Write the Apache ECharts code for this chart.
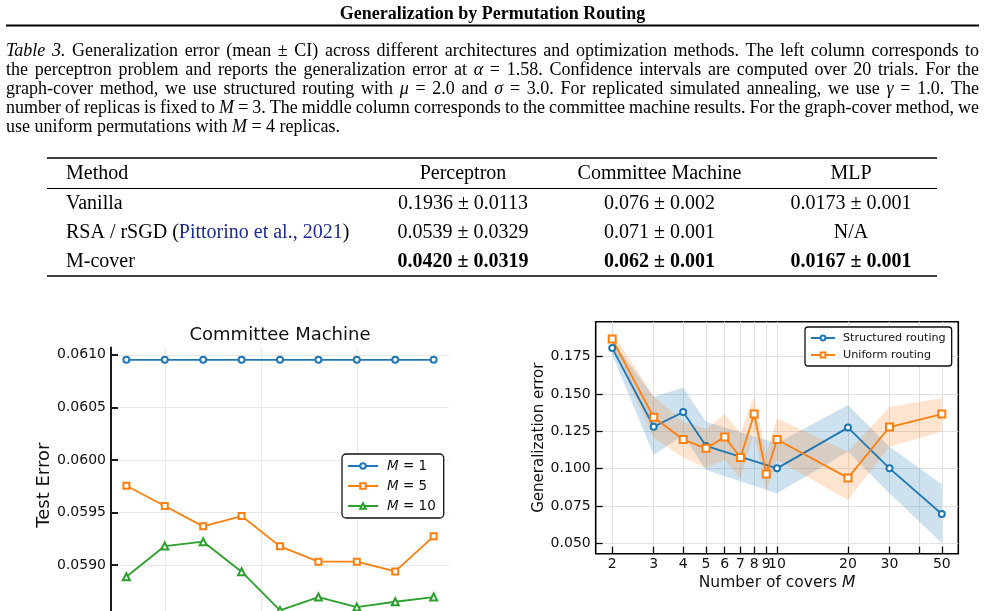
<!DOCTYPE html>
<html><head><meta charset="utf-8">
<script src="https://cdn.jsdelivr.net/npm/echarts@6/dist/echarts.min.js"></script>
<style>html,body{margin:0;padding:0;background:#fff}#main{width:985px;height:611px}</style>
</head><body><div id="main"></div>
<script>
// ---------------- data ----------------
const pageTitle = 'Generalization by Permutation Routing';
const captionLines = [
  '_Table_ _3._ Generalization error (mean ± CI) across different architectures and optimization methods. The left column corresponds to',
  'the perceptron problem and reports the generalization error at _α_ = 1.58. Confidence intervals are computed over 20 trials. For the',
  'graph-cover method, we use structured routing with _μ_ = 2.0 and _σ_ = 3.0. For replicated simulated annealing, we use _γ_ = 1.0. The',
  'number of replicas is fixed to _M_ = 3. The middle column corresponds to the committee machine results. For the graph-cover method, we',
  'use uniform permutations with _M_ = 4 replicas.'
];
const tableHeader = ['Method', 'Perceptron', 'Committee Machine', 'MLP'];
const tableMethods = ['Vanilla', 'RSA / rSGD ({c|Pittorino et al., 2021})', 'M-cover'];
const tablePerceptron = ['0.1936 ± 0.0113', '0.0539 ± 0.0329', '0.0420 ± 0.0319'];
const tableCommittee = ['0.076 ± 0.002', '0.071 ± 0.001', '0.062 ± 0.001'];
const tableMLP = ['0.0173 ± 0.001', 'N/A', '0.0167 ± 0.001'];
const tableBoldRow = 2;

// Committee machine panel
const cmX = [0.6, 1.0, 1.4, 1.8, 2.2, 2.6, 3.0, 3.4, 3.8];
const cmM1 = [0.060952, 0.060952, 0.060952, 0.060952, 0.060952, 0.060952, 0.060952, 0.060952, 0.060952];
const cmM5 = [0.059754, 0.059561, 0.059368, 0.059466, 0.059178, 0.059032, 0.059032, 0.058940, 0.059273];
const cmM10 = [0.058889, 0.059181, 0.059222, 0.058937, 0.058569, 0.058696, 0.058601, 0.058651, 0.058696];
const cmYTicks = [0.0585, 0.0590, 0.0595, 0.0600, 0.0605, 0.0610];
const cmXGrid = [1, 2, 3];

// Covers panel
const coversStructured = [2, 3, 4, 5, 10, 20, 30, 50];
const structuredMean = [0.1808, 0.1281, 0.1379, 0.1152, 0.1002, 0.1275, 0.1002, 0.0696];
const structuredLow  = [0.1765, 0.1091, 0.1225, 0.0991, 0.0835, 0.1114, 0.0835, 0.0502];
const structuredHigh = [0.1855, 0.1482, 0.1542, 0.1314, 0.1170, 0.1426, 0.1147, 0.0895];
const coversUniform = [2, 3, 4, 5, 6, 7, 8, 9, 10, 20, 30, 50];
const uniformMean = [0.1868, 0.1344, 0.1195, 0.1136, 0.1212, 0.1075, 0.1366, 0.0964, 0.1195, 0.0938, 0.1279, 0.1366];
const uniformLow  = [0.1825, 0.1203, 0.1075, 0.1005, 0.1058, 0.0935, 0.1247, 0.0846, 0.1058, 0.0790, 0.1147, 0.1247];
const uniformHigh = [0.1912, 0.1485, 0.1315, 0.1265, 0.1364, 0.1237, 0.1486, 0.1091, 0.1337, 0.1114, 0.1415, 0.1471];
const coverXTicks = [2, 3, 4, 5, 6, 7, 8, 9, 10, 20, 30, 40, 50];
const coverXLabels = [2, 3, 4, 5, 6, 7, 8, 9, 10, 20, 30, 50];
const coverYTicks = [0.050, 0.075, 0.100, 0.125, 0.150, 0.175];

// ---------------- styling ----------------
const SERIF = '"Liberation Serif", "Times New Roman", serif';
const SANS = '"DejaVu Sans", sans-serif';
const C_BLUE = '#1f77b4', C_ORANGE = '#ff7f0e', C_GREEN = '#2ca02c';
const TXT = '#111';

const mctx = document.createElement('canvas').getContext('2d');
function textW(s, font) { mctx.font = font; return mctx.measureText(s).width; }

const graphics = [];
// running title
graphics.push({type: 'text', x: 492.5, y: 14.5, silent: true,
  style: {text: pageTitle, font: 'bold 18px ' + SERIF, fill: '#000', align: 'center', verticalAlign: 'middle'}});
graphics.push({type: 'line', silent: true, shape: {x1: 6, y1: 25.5, x2: 979, y2: 25.5}, style: {stroke: '#000', lineWidth: 1.8}});

// caption (justified)
const CAP_X0 = 6, CAP_X1 = 979, CAP_Y0 = 51.5, CAP_LH = 19;
function capFont(it) { return (it ? 'italic ' : '') + '18px ' + SERIF; }
captionLines.forEach((line, li) => {
  const words = line.split(' ').map(w => w.split(/(_[^_]+_)/).filter(Boolean)
    .map(seg => seg.startsWith('_') && seg.endsWith('_') && seg.length > 1 ? {t: seg.slice(1, -1), it: true} : {t: seg, it: false}));
  const widths = words.map(segs => segs.reduce((a, s) => a + textW(s.t, capFont(s.it)), 0));
  const total = widths.reduce((a, b) => a + b, 0);
  const justify = li < captionLines.length - 1;
  const gap = justify ? (CAP_X1 - CAP_X0 - total) / (words.length - 1) : textW(' ', capFont(false));
  let x = CAP_X0;
  const y = CAP_Y0 + li * CAP_LH;
  words.forEach((segs, wi) => {
    let sx = x;
    segs.forEach(s => {
      graphics.push({type: 'text', x: sx, y: y, silent: true,
        style: {text: s.t, font: capFont(s.it), fill: '#000', align: 'left', verticalAlign: 'middle'}});
      sx += textW(s.t, capFont(s.it));
    });
    x += widths[wi] + gap;
  });
});

// table
const T_X0 = 47, T_X1 = 937;
const colX = [66, 463, 659.5, 851];
const headerY = 174, rowY = [203.5, 232.5, 261.5];
graphics.push({type: 'line', silent: true, shape: {x1: T_X0, y1: 158, x2: T_X1, y2: 158}, style: {stroke: '#000', lineWidth: 1.6}});
graphics.push({type: 'line', silent: true, shape: {x1: T_X0, y1: 188.5, x2: T_X1, y2: 188.5}, style: {stroke: '#000', lineWidth: 1}});
graphics.push({type: 'line', silent: true, shape: {x1: T_X0, y1: 276, x2: T_X1, y2: 276}, style: {stroke: '#000', lineWidth: 1.6}});
tableHeader.forEach((h, i) => {
  graphics.push({type: 'text', x: colX[i], y: headerY, silent: true,
    style: {text: h, font: '20px ' + SERIF, fill: '#000', align: i === 0 ? 'left' : 'center', verticalAlign: 'middle'}});
});
tableMethods.forEach((m, r) => {
  const cells = [m, tablePerceptron[r], tableCommittee[r], tableMLP[r]];
  cells.forEach((c, i) => {
    const bold = (r === tableBoldRow && i > 0);
    graphics.push({type: 'text', x: colX[i], y: rowY[r], silent: true,
      style: {text: c, font: (bold ? 'bold ' : '') + '20px ' + SERIF, fill: '#000',
        align: i === 0 ? 'left' : 'center', verticalAlign: 'middle',
        rich: {c: {fill: '#1c2c93', font: '20px ' + SERIF}}}});
  });
});

// committee machine panel title
graphics.push({type: 'text', x: 280, y: 335, silent: true,
  style: {text: 'Committee Machine', font: '18px ' + SANS, fill: TXT, align: 'center', verticalAlign: 'middle'}});

// ---------------- chart ----------------
const chart = echarts.init(document.getElementById('main'), null, {renderer: 'canvas'});
const pair = (xs, ys) => xs.map((x, i) => [x, ys[i]]);

function bandSeries(name, xs, lo, hi, color) {
  return {
    name: name, type: 'custom', xAxisIndex: 1, yAxisIndex: 1, silent: true,
    data: xs.map((x, i) => [x, lo[i], hi[i]]),
    encode: {x: 0, y: [1, 2]},
    renderItem: function (params, api) {
      if (params.dataIndex !== 0) return null;
      const upper = xs.map((x, i) => api.coord([x, hi[i]]));
      const lower = xs.map((x, i) => api.coord([x, lo[i]])).reverse();
      return {type: 'polygon', shape: {points: upper.concat(lower)}, style: {fill: color}};
    }
  };
}

const option = {
  animation: false,
  backgroundColor: '#fff',
  textStyle: {fontFamily: SANS},
  graphic: graphics,
  grid: [
    {left: 111, top: 347.4, width: 338, height: 275.5, show: false, containLabel: false, outerBoundsMode: 'none'},
    {left: 595.7, top: 321.7, width: 362.6, height: 232, show: true, borderColor: '#000', borderWidth: 1.6,
     backgroundColor: 'transparent', containLabel: false, outerBoundsMode: 'none'}
  ],
  xAxis: [
    {type: 'value', gridIndex: 0, min: 0.44, max: 3.96,
     axisLine: {show: false}, axisLabel: {show: false},
     axisTick: {show: false, customValues: cmXGrid},
     splitLine: {show: true, lineStyle: {color: '#e8e8e8', width: 1}}},
    {type: 'log', gridIndex: 1, logBase: 10, min: 1.702, max: 58.74,
     axisLine: {show: false},
     axisTick: {show: true, inside: true, length: 7, lineStyle: {color: '#000', width: 1.3}, customValues: coverXTicks},
     axisLabel: {show: true, customValues: coverXLabels, fontSize: 14, color: TXT, margin: 4, fontFamily: SANS,
       formatter: v => String(Math.round(v))},
     splitLine: {show: true, lineStyle: {color: '#e2e2e2', width: 1}},
     name: 'Number of covers {i|M}', nameLocation: 'middle', nameGap: 21,
     nameTextStyle: {fontSize: 15.5, color: TXT, fontFamily: SANS, verticalAlign: 'top',
       rich: {i: {fontStyle: 'italic', fontSize: 15.5, fontFamily: SANS, color: TXT}}}}
  ],
  yAxis: [
    {type: 'value', gridIndex: 0, min: 0.05845, max: 0.06107,
     axisLine: {show: true, onZero: false, lineStyle: {color: '#1a1a1a', width: 2}},
     axisTick: {show: true, inside: true, length: 7, lineStyle: {color: '#1a1a1a', width: 2}, customValues: cmYTicks},
     axisLabel: {show: true, customValues: cmYTicks, fontSize: 14, color: TXT, margin: 5, fontFamily: SANS,
       formatter: v => v.toFixed(4)},
     splitLine: {show: true, lineStyle: {color: '#e8e8e8', width: 1}},
     name: 'Test Error', nameLocation: 'middle', nameGap: 58,
     nameTextStyle: {fontSize: 18, color: TXT, fontFamily: SANS}},
    {type: 'value', gridIndex: 1, min: 0.04303, max: 0.19845,
     axisLine: {show: false},
     axisTick: {show: true, inside: true, length: 7, lineStyle: {color: '#000', width: 1.3}, customValues: coverYTicks},
     axisLabel: {show: true, customValues: coverYTicks, fontSize: 14, color: TXT, margin: 5, fontFamily: SANS,
       formatter: v => v.toFixed(3)},
     splitLine: {show: true, lineStyle: {color: '#e2e2e2', width: 1}},
     name: 'Generalization error', nameLocation: 'middle', nameGap: 47,
     nameTextStyle: {fontSize: 15, color: TXT, fontFamily: SANS}}
  ],
  legend: [
    {data: ['M = 1', 'M = 5', 'M = 10'], left: 342, top: 454, orient: 'vertical',
     padding: [5, 8, 5, 5], itemWidth: 30, itemHeight: 7, itemGap: 6,
     borderColor: '#111', borderWidth: 1.3, borderRadius: 4, backgroundColor: '#fff',
     formatter: n => n.replace('M', '{i|M}'),
     textStyle: {fontSize: 13.5, lineHeight: 14, color: TXT, fontFamily: SANS, padding: [0, 0, 0, 4],
       rich: {i: {fontStyle: 'italic', fontSize: 13.5, lineHeight: 14, fontFamily: SANS, color: TXT}}}},
    {data: ['Structured routing', 'Uniform routing'], left: 805, top: 327, orient: 'vertical',
     padding: [5, 6, 5, 5], itemWidth: 24, itemHeight: 6, itemGap: 5,
     borderColor: '#111', borderWidth: 1.3, borderRadius: 3, backgroundColor: '#fff',
     textStyle: {fontSize: 11.2, lineHeight: 12, color: TXT, fontFamily: SANS, padding: [0, 0, 0, 3]}}
  ],
  series: [
    {name: 'M = 1', type: 'line', xAxisIndex: 0, yAxisIndex: 0, data: pair(cmX, cmM1),
     symbol: 'emptyCircle', symbolSize: 6, lineStyle: {color: C_BLUE, width: 1.8},
     itemStyle: {color: C_BLUE, borderWidth: 1.2}},
    {name: 'M = 5', type: 'line', xAxisIndex: 0, yAxisIndex: 0, data: pair(cmX, cmM5),
     symbol: 'emptyRect', symbolSize: 6, lineStyle: {color: C_ORANGE, width: 1.8},
     itemStyle: {color: C_ORANGE, borderWidth: 1.2}},
    {name: 'M = 10', type: 'line', xAxisIndex: 0, yAxisIndex: 0, data: pair(cmX, cmM10),
     symbol: 'emptyTriangle', symbolSize: 7, lineStyle: {color: C_GREEN, width: 1.8},
     itemStyle: {color: C_GREEN, borderWidth: 1.2}},

    bandSeries('structuredBand', coversStructured, structuredLow, structuredHigh, 'rgba(31,119,180,0.22)'),
    {name: 'Structured routing', type: 'line', xAxisIndex: 1, yAxisIndex: 1,
     data: pair(coversStructured, structuredMean),
     symbol: 'emptyCircle', symbolSize: 6, lineStyle: {color: C_BLUE, width: 1.8},
     itemStyle: {color: C_BLUE, borderWidth: 1.2}},
    bandSeries('uniformBand', coversUniform, uniformLow, uniformHigh, 'rgba(255,127,14,0.2)'),
    {name: 'Uniform routing', type: 'line', xAxisIndex: 1, yAxisIndex: 1,
     data: pair(coversUniform, uniformMean),
     symbol: 'emptyRect', symbolSize: 7, lineStyle: {color: C_ORANGE, width: 1.8},
     itemStyle: {color: C_ORANGE, borderWidth: 1.2}}
  ]
};
chart.setOption(option);
</script></body></html>
